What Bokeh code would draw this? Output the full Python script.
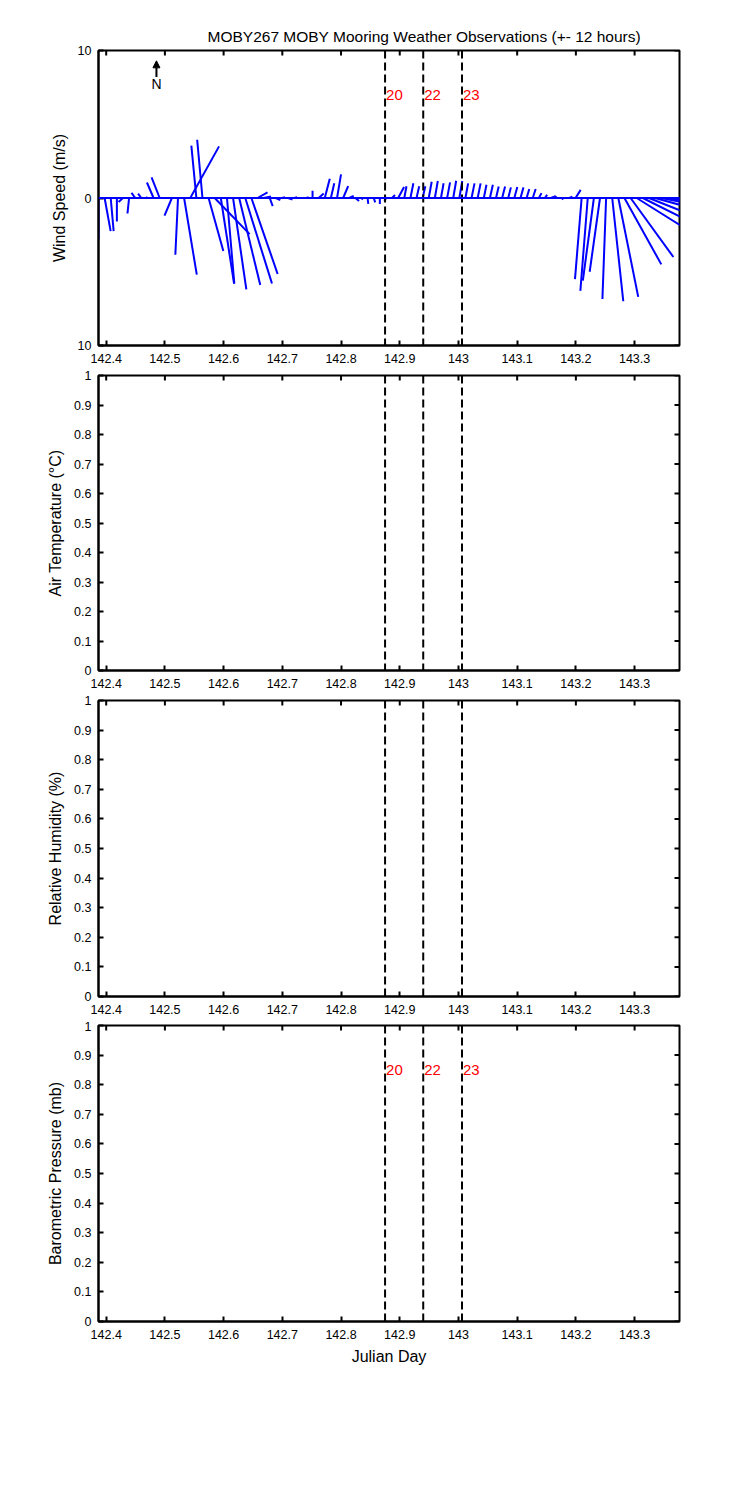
import numpy as np
from bokeh.plotting import figure
from bokeh.layouts import column
from bokeh.models import (Range1d, FixedTicker, Span, Arrow, NormalHead, ColumnDataSource)
from bokeh.core.properties import value
from bokeh.embed import file_html
from bokeh.resources import INLINE

# ---------------- data ----------------
title_text = "MOBY267 MOBY Mooring Weather Observations (+- 12 hours)"

julian_day = [
    142.3869, 142.3973, 142.4077, 142.4182, 142.4286, 142.4390, 142.4494, 142.4598,
    142.4702, 142.4807, 142.4911, 142.5015, 142.5119, 142.5223, 142.5327, 142.5432,
    142.5536, 142.5640, 142.5744, 142.5848, 142.5952, 142.6057, 142.6161, 142.6265,
    142.6369, 142.6473, 142.6577, 142.6682, 142.6786, 142.6890, 142.6994, 142.7098,
    142.7202, 142.7307, 142.7411, 142.7515, 142.7619, 142.7723, 142.7827, 142.7932,
    142.8036, 142.8140, 142.8244, 142.8348, 142.8452, 142.8557, 142.8661, 142.8765,
    142.8869, 142.8973, 142.9077, 142.9182, 142.9286, 142.9390, 142.9494, 142.9598,
    142.9702, 142.9807, 142.9911, 143.0015, 143.0119, 143.0223, 143.0327, 143.0432,
    143.0536, 143.0640, 143.0744, 143.0848, 143.0952, 143.1057, 143.1161, 143.1265,
    143.1369, 143.1473, 143.1577, 143.1682, 143.1786, 143.1890, 143.1994, 143.2098,
    143.2202, 143.2307, 143.2411, 143.2515, 143.2619, 143.2723, 143.2827, 143.2932,
    143.3036, 143.3140, 143.3244, 143.3348, 143.3452, 143.3557, 143.3661, 143.3765,
]

# east (u) and north (v) wind components, m/s
wind_u = [
    0.0, 0.41, 0.2, 0.0, -0.3, -0.11, -0.25, -0.22,
    -0.1, -0.45, -0.55, 0.2, -0.5, -0.18, 0.86, 1.95,
    -0.34, -0.36, 1.0, 2.37, 0.9, 0.5, 0.9, 1.43,
    1.81, 1.78, 0.68, 0.5, 0.2, 0.3, 0.2, 0.3,
    0.2, 0.25, 0.15, 0.0, 0.34, 0.34, 0.23, 0.27,
    0.34, 0.3, 0.25, 0.1, 0.05, 0.1, 0.0, -0.1,
    0.2, 0.4, 0.15, 0.2, 0.18, 0.18, 0.2, 0.2,
    0.18, 0.2, 0.2, 0.2, 0.18, 0.2, 0.2, 0.18,
    0.2, 0.18, 0.2, 0.18, 0.2, 0.2, 0.18, 0.2,
    0.18, 0.15, 0.2, -0.2, -0.1, 0.2, 0.35, -0.45,
    -0.5, -0.75, -0.7, -0.25, 0.75, 1.35, 2.5, 2.9,
    4.0, 4.0, 4.0, 4.0, 3.5, 3.0, 2.5, 2.0,
]
wind_v = [
    -2.8, -2.25, -2.25, -1.6, -0.27, -1.05, 0.35, 0.3,
    0.05, 1.05, 1.4, 0.0, -1.2, -3.85, -5.2, 3.5,
    3.55, 3.95, -3.6, -2.45, -5.8, -5.8, -6.2, -5.9,
    -5.8, -5.15, 0.38, 0.1, -0.55, -0.15, 0.05, -0.1,
    0.05, 0.0, 0.05, 0.5, 0.3, 1.3, 1.0, 1.6,
    0.8, 0.15, -0.2, -0.1, -0.4, -0.3, -0.4, -0.2,
    0.2, 0.75, 0.8, 1.0, 0.8, 0.8, 1.1, 1.15,
    1.0, 1.06, 1.17, 1.15, 0.99, 0.99, 0.99, 0.9,
    0.9, 0.78, 0.78, 0.72, 0.75, 0.72, 0.61, 0.61,
    0.33, 0.22, 0.09, 0.15, -0.1, 0.1, 0.55, -5.5,
    -6.3, -5.6, -5.0, -6.85, -7.0, -6.7, -4.5, -4.0,
    -2.5, -2.0, -1.6, -1.1, -0.7, -0.5, -0.3, -0.2,
]

event_days = [142.875, 142.94, 143.006]
event_labels = ["20", "22", "23"]

x_ticks = [142.4, 142.5, 142.6, 142.7, 142.8, 142.9, 143.0, 143.1, 143.2, 143.3]
x_tick_labels = ["142.4", "142.5", "142.6", "142.7", "142.8", "142.9", "143",
                 "143.1", "143.2", "143.3"]

wind_y_ticks = [-10, 0, 10]
wind_y_tick_labels = ["10", "0", "10"]

unit_ticks = [0, 0.1, 0.2, 0.3, 0.4, 0.5, 0.6, 0.7, 0.8, 0.9, 1]
unit_tick_labels = ["0", "0.1", "0.2", "0.3", "0.4", "0.5", "0.6", "0.7", "0.8", "0.9", "1"]

y_labels = ["Wind Speed (m/s)", "Air Temperature (\u00b0C)",
            "Relative Humidity (%)", "Barometric Pressure (mb)"]
x_label = "Julian Day"

# ---------------- styling / layout ----------------
FONT = "Liberation Sans"
TICK_FONT_SIZE = "12.5px"
LABEL_FONT_SIZE = "16px"
TITLE_FONT_SIZE = "15.5px"
FIG_W = 734
BORDER_L = 98
FRAME_W = 581
BORDER_R = FIG_W - BORDER_L - FRAME_W
TICK_LEN = 5  # px, inward
X_START, X_END = julian_day[0], julian_day[-1]


def style_axis(ax, ticks, labels):
    ax.ticker = FixedTicker(ticks=ticks)
    ax.major_label_overrides = dict(zip(ticks, labels))
    ax.major_tick_in = TICK_LEN
    ax.major_tick_out = 0
    ax.minor_tick_line_color = None
    ax.axis_line_width = 2
    ax.axis_line_color = "black"
    ax.major_tick_line_width = 2
    ax.major_tick_line_color = "black"
    ax.major_label_text_font = FONT
    ax.major_label_text_color = "black"
    ax.major_label_text_font_size = TICK_FONT_SIZE


def make_panel(height, top, bottom, y_start, y_end, yticks, yticklabels, ylabel,
               title=None, xlabel=None):
    kw = dict(width=FIG_W, height=height,
              x_range=Range1d(X_START, X_END), y_range=Range1d(y_start, y_end),
              toolbar_location=None, output_backend="svg",
              min_border_left=BORDER_L, min_border_right=BORDER_R,
              min_border_top=top, min_border_bottom=bottom,
              background_fill_color="white", border_fill_color="white")
    if title is not None:
        p = figure(title=title, **kw)
        p.title.align = "left"
        p.title.offset = 109
        p.title.text_font = FONT
        p.title.text_font_size = TITLE_FONT_SIZE
        p.title.text_font_style = "normal"
        p.title.text_color = "black"
        p.title.standoff = 11
    else:
        p = figure(title=None, **kw)
    p.xgrid.grid_line_color = None
    p.ygrid.grid_line_color = None
    p.outline_line_color = "black"
    p.outline_line_width = 2
    p.outline_line_alpha = 1.0

    style_axis(p.below[0], x_ticks, x_tick_labels)
    style_axis(p.left[0], yticks, yticklabels)
    p.below[0].major_label_standoff = 8
    p.left[0].major_label_standoff = 7

    # inward ticks on the top and right edges of the box
    frame_h = height - top - bottom
    dy = TICK_LEN * (y_end - y_start) / frame_h
    dx = TICK_LEN * (X_END - X_START) / FRAME_W
    p.segment(x0=x_ticks, y0=[y_end] * len(x_ticks), x1=x_ticks,
              y1=[y_end - dy] * len(x_ticks), line_color="black", line_width=2)
    p.segment(x0=[X_END] * len(yticks), y0=yticks, x1=[X_END - dx] * len(yticks),
              y1=yticks, line_color="black", line_width=2)

    yl = p.left[0]
    yl.axis_label = ylabel
    yl.axis_label_text_font = FONT
    yl.axis_label_text_font_size = LABEL_FONT_SIZE
    yl.axis_label_text_font_style = "normal"
    yl.axis_label_text_color = "black"
    yl.axis_label_standoff = 7
    if xlabel:
        xa = p.below[0]
        xa.axis_label = xlabel
        xa.axis_label_text_font = FONT
        xa.axis_label_text_font_size = LABEL_FONT_SIZE
        xa.axis_label_text_font_style = "normal"
        xa.axis_label_text_color = "black"
        xa.axis_label_standoff = 6

    for d in event_days:
        p.add_layout(Span(location=d, dimension="height", line_color="black",
                          line_width=2, line_dash="8 4"))
    return p


def add_event_labels(p, y_start, y_end):
    ylab = y_start + 0.85 * (y_end - y_start)
    p.text(x=event_days, y=[ylab] * len(event_days), text=event_labels,
           text_color="red", text_font=value(FONT), text_font_size="15px",
           text_align="left", text_baseline="middle", x_offset=1)


# ---------------- panel 1: wind sticks ----------------
H1, T1, B1 = 370, 50, 25
p1 = make_panel(H1, T1, B1, -10, 10, wind_y_ticks, wind_y_tick_labels, y_labels[0],
                title=title_text)
frame_h1 = H1 - T1 - B1
# stick x-scale so that 1 m/s spans the same pixels horizontally as vertically
k = ((X_END - X_START) / FRAME_W) * (frame_h1 / 20.0)
t = np.array(julian_day)
u = np.array(wind_u)
v = np.array(wind_v)
src = ColumnDataSource(dict(x0=t, y0=np.zeros_like(t), x1=t + u * k, y1=v))
p1.add_layout(Span(location=0, dimension="width", line_color="blue", line_width=2))
p1.segment("x0", "y0", "x1", "y1", source=src, line_color="blue", line_width=2)
add_event_labels(p1, -10, 10)

# north arrow
north_x = 142.4856
p1.add_layout(Arrow(end=NormalHead(size=7, fill_color="black", line_color="black",
                                   line_width=1),
                    x_start=north_x, y_start=8.2, x_end=north_x, y_end=9.3,
                    line_color="black", line_width=2))
p1.text(x=[north_x], y=[7.75], text=["N"], text_color="black",
        text_font=value(FONT), text_font_size="14px",
        text_align="center", text_baseline="middle")

# ---------------- panels 2-4 ----------------
p2 = make_panel(325, 5, 25, 0, 1, unit_ticks, unit_tick_labels, y_labels[1])
p3 = make_panel(326, 5, 25, 0, 1, unit_ticks, unit_tick_labels, y_labels[2])
p4 = make_panel(355, 4, 55, 0, 1, unit_ticks, unit_tick_labels, y_labels[3],
                xlabel=x_label)
add_event_labels(p4, 0, 1)

layout = column(p1, p2, p3, p4, spacing=0)
open("out.html", "w").write(file_html(layout, INLINE))
